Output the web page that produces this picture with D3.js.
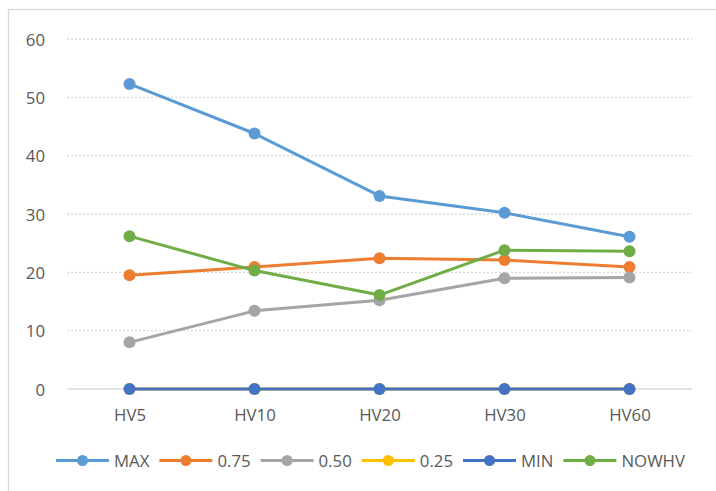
<!DOCTYPE html>
<html><head><meta charset="utf-8">
<script src="https://cdn.jsdelivr.net/npm/d3@7/dist/d3.min.js"></script>
<style>
html,body{margin:0;padding:0;background:#fff;}
svg{display:block;}
text{font-family:"Open Sans","Noto Sans",sans-serif;fill:#595959;}
</style></head>
<body>
<script>
const categories = ["HV5","HV10","HV20","HV30","HV60"];
const seriesNames = ["MAX","0.75","0.50","0.25","MIN","NOWHV"];
const maxValues   = [52.3, 43.8, 33.1, 30.2, 26.1];
const q75Values   = [19.5, 20.9, 22.4, 22.1, 20.9];
const q50Values   = [8.0, 13.4, 15.2, 19.0, 19.1];
const q25Values   = [0, 0, 0, 0, 0];
const minValues   = [0, 0, 0, 0, 0];
const nowhvValues = [26.2, 20.3, 16.1, 23.8, 23.6];
const yTicks = [0,10,20,30,40,50,60];
const colors = ["#5B9BD5","#ED7D31","#A5A5A5","#FFC000","#4472C4","#70AD47"];

const series = seriesNames.map((n,i)=>({name:n,color:colors[i],
  values:[maxValues,q75Values,q50Values,q25Values,minValues,nowhvValues][i]}));

const W=716,H=491, FS=16.8, FONT="'Open Sans','Noto Sans',sans-serif";
const svg=d3.select("body").append("svg").attr("width",W).attr("height",H);
svg.append("rect").attr("x",8.5).attr("y",9.5).attr("width",W).attr("height",H)
  .attr("fill","#fff").attr("stroke","#d9d9d9").attr("stroke-width",1.3);

const x=d3.scalePoint().domain(categories).range([67,692]).padding(0.5);
const y=d3.scaleLinear().domain([0,60]).range([389,39]);

// gridlines
svg.append("g").selectAll("line").data(yTicks.filter(t=>t>0)).join("line")
  .attr("x1",67).attr("x2",692).attr("y1",d=>y(d)).attr("y2",d=>y(d))
  .attr("stroke","#d9d9d9").attr("stroke-width",1.3).attr("stroke-dasharray","2,2");
// baseline
svg.append("line").attr("x1",67).attr("x2",692).attr("y1",y(0)).attr("y2",y(0))
  .attr("stroke","#d9d9d9").attr("stroke-width",1.5);

// y axis labels
const yAxis=d3.axisLeft(y).tickValues(yTicks).tickSize(0).tickPadding(0);
const gy=svg.append("g").attr("transform","translate(45,0)").call(yAxis);
gy.select(".domain").remove();
gy.selectAll("text").attr("font-size",FS).attr("fill","#595959").attr("dy","0.36em")
  .style("font-family",FONT);

// x axis labels
const xAxis=d3.axisBottom(x).tickSize(0).tickPadding(0);
const gx=svg.append("g").attr("transform","translate(0,421)").call(xAxis);
gx.select(".domain").remove();
gx.selectAll("text").attr("font-size",FS).attr("fill","#595959").attr("dy","0")
  .style("font-family",FONT);

const line=d3.line().x((d,i)=>x(categories[i])).y(d=>y(d));
const gs=svg.append("g").selectAll("g").data(series).join("g");
gs.append("path").attr("d",d=>line(d.values)).attr("fill","none")
  .attr("stroke",d=>d.color).attr("stroke-width",3).attr("stroke-linejoin","round");
gs.selectAll("circle").data(d=>d.values.map(v=>({v,c:d.color}))).join("circle")
  .attr("cx",(d,i)=>x(categories[i])).attr("cy",d=>y(d.v)).attr("r",6).attr("fill",d=>d.c);

// legend
const lg=svg.append("g").attr("transform","translate(0,460.5)");
let cx=56;
series.forEach(s=>{
  const g=lg.append("g").attr("transform",`translate(${cx},0)`);
  g.append("line").attr("x1",0).attr("x2",53).attr("y1",0).attr("y2",0)
    .attr("stroke",s.color).attr("stroke-width",3);
  g.append("circle").attr("cx",26.5).attr("cy",0).attr("r",5.5).attr("fill",s.color);
  const t=g.append("text").attr("x",58).attr("y",6.5)
    .attr("font-size",FS).style("font-family",FONT).text(s.name);
  cx+=58+t.node().getComputedTextLength()+10;
});
</script>
</body></html>
